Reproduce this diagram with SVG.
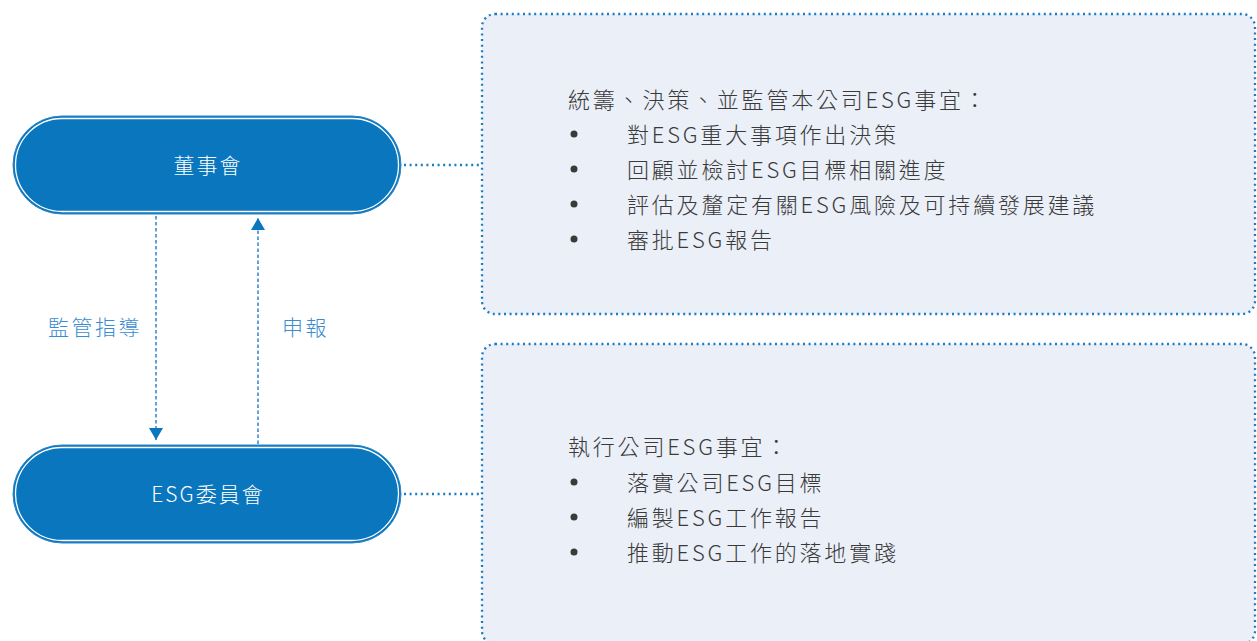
<svg xmlns="http://www.w3.org/2000/svg" width="1257" height="641" viewBox="0 0 1257 641">
  <defs>
    <style>
      .pill { fill: #0a76be; stroke: #2a86c8; stroke-width: 1; }
      .pillin { fill: none; stroke: #ffffff; stroke-width: 1.3; }
      .ptxt { font-family: "Noto Sans CJK TC", "Noto Sans", sans-serif; font-weight: 300; font-size: 21px; fill: #ffffff; letter-spacing: 2px; text-anchor: middle; dominant-baseline: central; }
      .lbl { font-family: "Noto Sans CJK TC", "Noto Sans", sans-serif; font-weight: 300; font-size: 21px; fill: #3a8ccf; letter-spacing: 2.5px; dominant-baseline: central; }
      .box { fill: #eaeff8; stroke: #1a7cc4; stroke-width: 2.3; stroke-dasharray: 2 3.6; }
      .dot { fill: none; stroke: #1a7cc4; stroke-width: 2.3; stroke-dasharray: 2 3.6; }
      .dash { fill: none; stroke: #3a8ccf; stroke-width: 1.6; stroke-dasharray: 3.5 2.5; }
      .btxt { font-family: "Noto Sans CJK TC", "Noto Sans", sans-serif; font-weight: 300; font-size: 22px; fill: #3a3a3a; letter-spacing: 2.8px; dominant-baseline: central; }
      .bul { fill: #3a3a3a; }
    </style>
    <marker id="ah" viewBox="0 0 12 14" refX="12" refY="7" markerWidth="12" markerHeight="14" markerUnits="userSpaceOnUse" orient="auto">
      <path d="M0,0 L12,7 L0,14 Z" fill="#0a76be"/>
    </marker>
  </defs>

  <g id="connectors">
    <line class="dash" x1="156" y1="216" x2="156" y2="440" marker-end="url(#ah)"/>
    <line class="dash" x1="258" y1="444" x2="258" y2="218" marker-end="url(#ah)"/>
    <line class="dot" x1="404" y1="165" x2="482" y2="165"/>
    <line class="dot" x1="404" y1="494" x2="482" y2="494"/>
    <text class="lbl" x="48" y="326">監管指導</text>
    <text class="lbl" x="282" y="326">申報</text>
  </g>

  <g id="board">
    <rect class="pill" x="13" y="116" width="388" height="98" rx="49"/>
    <rect class="pillin" x="15.5" y="118.5" width="383" height="93" rx="46.5"/>
    <text class="ptxt" x="208" y="164">董事會</text>
  </g>

  <g id="esg-committee">
    <rect class="pill" x="13" y="445" width="388" height="98" rx="49"/>
    <rect class="pillin" x="15.5" y="447.5" width="383" height="93" rx="46.5"/>
    <text class="ptxt" x="208" y="493">ESG委員會</text>
  </g>

  <g id="board-duties">
    <rect class="box" x="482" y="14" width="773" height="300" rx="13"/>
    <text class="btxt" x="568" y="98">統籌、決策、並監管本公司ESG事宜：</text>
    <circle class="bul" cx="574" cy="134" r="3.5"/>
    <text class="btxt" x="627" y="133">對ESG重大事項作出決策</text>
    <circle class="bul" cx="574" cy="169" r="3.5"/>
    <text class="btxt" x="627" y="168">回顧並檢討ESG目標相關進度</text>
    <circle class="bul" cx="574" cy="204" r="3.5"/>
    <text class="btxt" x="627" y="203">評估及釐定有關ESG風險及可持續發展建議</text>
    <circle class="bul" cx="574" cy="239" r="3.5"/>
    <text class="btxt" x="627" y="238">審批ESG報告</text>
  </g>

  <g id="committee-duties">
    <rect class="box" x="482" y="344" width="773" height="300" rx="13"/>
    <text class="btxt" x="568" y="445">執行公司ESG事宜：</text>
    <circle class="bul" cx="574" cy="482" r="3.5"/>
    <text class="btxt" x="627" y="481">落實公司ESG目標</text>
    <circle class="bul" cx="574" cy="517" r="3.5"/>
    <text class="btxt" x="627" y="516">編製ESG工作報告</text>
    <circle class="bul" cx="574" cy="552" r="3.5"/>
    <text class="btxt" x="627" y="551">推動ESG工作的落地實踐</text>
  </g>
</svg>
